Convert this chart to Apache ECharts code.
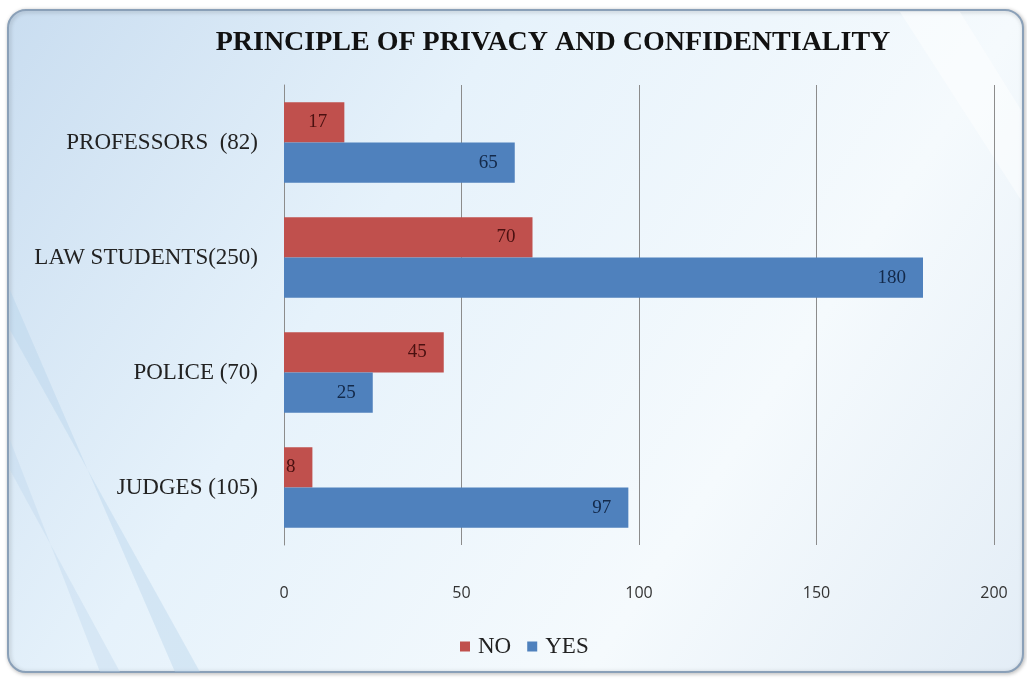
<!DOCTYPE html>
<html>
<head>
<meta charset="utf-8">
<script src="https://cdn.jsdelivr.net/npm/echarts@6/dist/echarts.min.js"></script>
<style>html,body{margin:0;padding:0;background:#fff;}#c{width:1027px;height:679px;}</style>
</head>
<body>
<div id="c"></div>
<script>
const categories = ['PROFESSORS  (82)', 'LAW STUDENTS(250)', 'POLICE (70)', 'JUDGES (105)'];
const noValues = [17, 70, 45, 8];
const yesValues = [65, 180, 25, 97];
const xTicks = { min: 0, max: 200, interval: 50 };

const chart = echarts.init(document.getElementById('c'));
const serif = '"Liberation Serif", serif';
chart.setOption({
  animation: false,
  graphic: [
    { type: 'rect', z: -10, shape: { x: 8, y: 10, width: 1015, height: 662, r: 18 },
      style: { fill: new echarts.graphic.LinearGradient(0, 0, 1, 1, [
        { offset: 0, color: '#c9ddf0' }, { offset: 0.35, color: '#e6f2fb' },
        { offset: 0.7, color: '#f5fafd' }, { offset: 1, color: '#e3edf6' }]),
        stroke: '#8aa0b8', lineWidth: 2, shadowColor: 'rgba(0,0,0,0.25)', shadowBlur: 4, shadowOffsetX: 1, shadowOffsetY: 1 } },
    { type: 'polygon', z: -9, silent: true, shape: { points: [[10, 290], [10, 330], [200, 672], [175, 672]] },
      style: { fill: 'rgba(175,205,232,0.35)' } },
    { type: 'polygon', z: -9, silent: true, shape: { points: [[10, 440], [10, 470], [120, 672], [100, 672]] },
      style: { fill: 'rgba(185,212,236,0.35)' } },
    { type: 'polygon', z: -9, silent: true, shape: { points: [[900, 12], [960, 12], [1021, 110], [1021, 200]] },
      style: { fill: 'rgba(255,255,255,0.45)' } }
  ],
  title: {
    text: 'PRINCIPLE OF PRIVACY AND CONFIDENTIALITY',
    left: 548, top: 24, textAlign: 'center',
    textStyle: { fontFamily: serif, fontWeight: 'bold', fontSize: 28, color: '#111' }
  },
  legend: {
    bottom: 16, left: 455, itemWidth: 10, itemHeight: 10, itemGap: 16,
    icon: 'rect',
    textStyle: { fontFamily: serif, fontSize: 23, color: '#222', padding: [0, 0, 0, 3] },
    data: ['NO', 'YES']
  },
  grid: { left: 284, right: 33, top: 85, bottom: 134 },
  xAxis: {
    type: 'value', min: xTicks.min, max: xTicks.max, interval: xTicks.interval,
    axisLine: { show: false }, axisTick: { show: false },
    splitLine: { show: true, lineStyle: { color: '#8c8c8c', width: 1 } },
    axisLabel: { margin: 40, fontFamily: '"Open Sans", sans-serif', fontSize: 16, color: '#333' }
  },
  yAxis: {
    type: 'category', data: categories, inverse: true,
    axisLine: { show: true, lineStyle: { color: '#8c8c8c' } }, axisTick: { show: false },
    axisLabel: { margin: 26, fontFamily: serif, fontSize: 23, color: '#222' }
  },
  series: [
    { name: 'NO', type: 'bar', data: noValues, barGap: '0%', barCategoryGap: '30%',
      itemStyle: { color: '#c0504d' },
      label: { show: true, position: 'insideRight', distance: 17, fontFamily: serif, fontSize: 19, color: '#4a1010' } },
    { name: 'YES', type: 'bar', data: yesValues, barGap: '0%', barCategoryGap: '30%',
      itemStyle: { color: '#4f81bd' },
      label: { show: true, position: 'insideRight', distance: 17, fontFamily: serif, fontSize: 19, color: '#13294a' } }
  ]
});
</script>
</body>
</html>
